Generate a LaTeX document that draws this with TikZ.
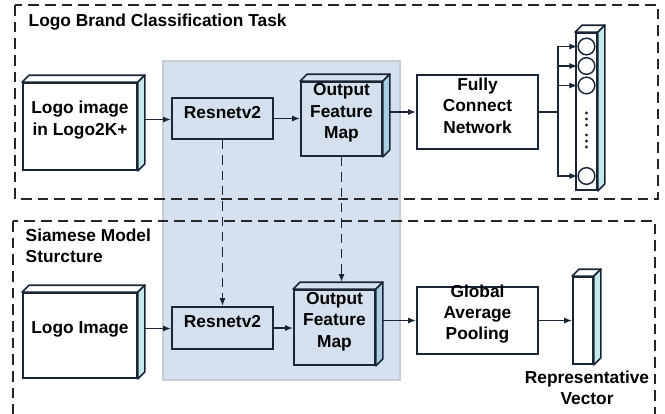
\documentclass[tikz,border=0pt]{standalone}
\usepackage{fontspec}
\setmainfont{Liberation Sans}
\usetikzlibrary{fit,calc,arrows.meta}
\definecolor{bgblue}{HTML}{D6E1EF}
\definecolor{bgedge}{HTML}{C9CDD3}
\definecolor{boxblue}{HTML}{D5E0EE}
\definecolor{sideblue}{HTML}{A9CDE1}
\definecolor{sidecyan}{HTML}{C5E8EA}
\definecolor{ink}{HTML}{1A2636}
\newcommand\boxfaces[4]{%
  \draw[face, fill=#4] (#1.north west) -- ++(#2,-#2) -- ($(#1.north east)+(#2,-#2)$) -- (#1.north east) -- cycle;
  \draw[face, fill=#3] (#1.north east) -- ++(#2,-#2) -- ($(#1.south east)+(#2,-#2)$) -- (#1.south east) -- cycle;}
\begin{document}
\begin{tikzpicture}[x=0.75pt,y=-0.75pt,
  every node/.style={font=\fontsize{13}{16}\selectfont\bfseries, text=black},
  plainbox/.style={draw=ink, line width=1.3pt, fill=white, inner sep=0pt, align=center},
  bluebox/.style={plainbox, fill=boxblue},
  region/.style={dash pattern=on 8pt off 4.5pt, line width=1.4pt, draw=black!85},
  link/.style={-{Latex[length=6pt,width=4.5pt]}, line width=1pt, draw=ink},
  dlink/.style={link, dash pattern=on 7pt off 4.5pt},
  neuron/.style={circle, draw=ink, line width=1.1pt, fill=white, minimum size=12.5pt, inner sep=0pt},
  face/.style={draw=ink, line width=1.3pt, line join=round},
  title/.style={anchor=west, align=left}
]
\useasboundingbox (0,0) rectangle (665,414);
\clip (0,0) rectangle (665,414);
\fill[white] (0,0) rectangle (665,414);

% shared backbone region
\draw[bgedge, fill=bgblue, line width=0.8pt] (163,61) rectangle (400,380);

% task regions
\draw[region] (15,5) rectangle (658,199);
\draw[region] (13,221) rectangle (655,440);

\node[title] (t1) at (24,22) {Logo Brand Classification Task};
\node[title] (t2) at (21,245.5) {Siamese Model\\Sturcture};

% ---- top row ----
\node[plainbox, fit={(23,83)(137,170)}] (img1) {Logo image\\in Logo2K+};
\boxfaces{img1}{7}{sidecyan}{white}
\node[bluebox, fit={(172,98)(273,139)}] (res1) {Resnetv2};
\node[bluebox, fit={(301,82)(382,156)}] (ofm1) {Output\\Feature\\Map};
\boxfaces{ofm1}{7}{sideblue}{boxblue}
\node[plainbox, fit={(417,75)(538,149)}] (fcn) {Fully\\Connect\\Network};
\node[plainbox, fit={(576,33)(597,190)}] (vec1) {};
\boxfaces{vec1}{7}{sidecyan}{white}
\node[neuron] (c1) at (586.5,46.5) {};
\node[neuron] (c2) at (586.5,66) {};
\node[neuron] (c3) at (586.5,85.5) {};
\node[neuron] (c4) at (586.5,176) {};
\foreach \yy in {113,119,125,135,141,147}
  \fill[ink] (586.5,\yy) circle[radius=1.2pt];

\draw[link] ($(img1.east)+(7,-7)$) -- (res1.west |- {$(img1.east)+(7,-7)$});
\draw[link] (res1.east) -- (ofm1.west |- res1.east);
\draw[link] ($(ofm1.east)+(7,-7)$) -- (fcn.west);
\coordinate (j) at (558,112);
\draw[line width=1pt, draw=ink] (fcn.east) -- (j);
\draw[link] (j) |- (c1.west);
\draw[link] (j) |- (c2.west);
\draw[link] (j) |- (c3.west);
\draw[link] (j) |- (c4.west);

% ---- bottom row ----
\node[plainbox, fit={(23,293)(137,378)}] (img2) {Logo Image};
\boxfaces{img2}{7}{sidecyan}{white}
\node[bluebox, fit={(172,307)(273,349)}] (res2) {Resnetv2};
\node[bluebox, fit={(294,290)(375,365)}] (ofm2) {Output\\Feature\\Map};
\boxfaces{ofm2}{7}{sideblue}{boxblue}
\node[plainbox, fit={(417,287)(538,354)}] (gap) {Global\\Average\\Pooling};
\node[plainbox, fit={(573,277)(593,364)}] (vec2) {};
\boxfaces{vec2}{7}{sidecyan}{white}
\node[align=center] (rv) at (587,387.5) {Representative\\Vector};

\draw[link] ($(img2.east)+(7,-7)$) -- (res2.west |- {$(img2.east)+(7,-7)$});
\draw[link] (res2.east) -- (ofm2.west |- res2.east);
\draw[link] ($(ofm2.east)+(7,-7)$) -- (gap.west);
\draw[link] (gap.east) -- (vec2.west);

% ---- shared weights ----
\draw[dlink] (res1.south) -- (res2.north);
\draw[dlink] (ofm1.south) -- ($(ofm2.north)+(7,-7)$ |- 0,283);
\end{tikzpicture}
\end{document}
